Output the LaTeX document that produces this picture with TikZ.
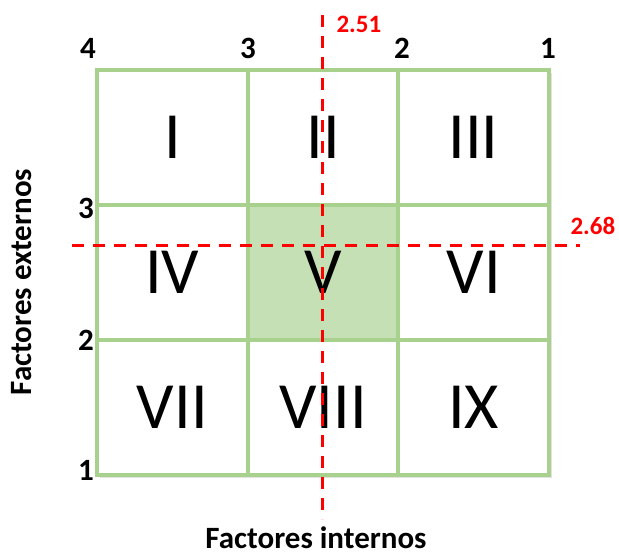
\documentclass[tikz,border=0pt]{standalone}
\usepackage{fontspec}
\setmainfont{Carlito}
\usetikzlibrary{positioning, calc}
\definecolor{mgreen}{HTML}{A9D18E}
\definecolor{mfill}{HTML}{C5E0B4}
\definecolor{mred}{HTML}{FF0000}
\definecolor{mshadow}{HTML}{E2E2E2}

\begin{document}
\begin{tikzpicture}[x=1pt, y=-1pt,
    cell/.style={draw=mgreen, fill=white, line width=4pt, minimum width=150.67pt,
      minimum height=135pt, inner sep=0pt, font=\fontsize{66}{66}\selectfont},
    num/.style={font=\fontsize{31}{31}\selectfont\bfseries, inner sep=1pt},
    cut/.style={mred, line width=3pt, dash pattern=on 12pt off 9pt},
    val/.style={text=mred, font=\fontsize{25}{25}\selectfont\bfseries}]
    \useasboundingbox (0,0) rectangle (619,557);
    % shadow and matrix
    \fill[mshadow] (100,73) rectangle (552,478);
    \foreach \r/\c/\t in {0/0/I, 0/1/II, 0/2/III, 1/0/IV, 1/2/VI,
                          2/0/VII, 2/1/VIII, 2/2/IX}
      \node[cell] (c\r\c) at ({97+150.67*(\c+0.5)}, {70+135*(\r+0.5)}) {\t};
    \node[cell, fill=mfill] (c11) at ({97+150.67*1.5}, {70+135*1.5}) {V};
    % scale values
    \foreach \x/\t in {88/4, 248/3, 402/2, 548/1}
      \node[num] (top\t) at (\x,48) {\t};
    \foreach \y/\t in {208/3, 340/2, 470/1}
      \node[num] (left\t) at (86,\y) {\t};
    % cut lines
    \coordinate (vtop) at (322,15);
    \coordinate (vbot) at (322,519);
    \coordinate (hleft) at (72,245);
    \coordinate (hright) at (580,245);
    \draw[cut] (vtop) -- (vbot);
    \draw[cut] (hleft) -- (hright);
    \node[val, anchor=west] (xval) at (333,24) {2.51};
    \node[val, anchor=west] (yval) at (567,226) {2.68};
    % axis titles
    \node[num, rotate=90] (ext) at (22,282) {Factores externos};
    \node[num] (int) at (316,538) {Factores internos};
\end{tikzpicture}
\end{document}
